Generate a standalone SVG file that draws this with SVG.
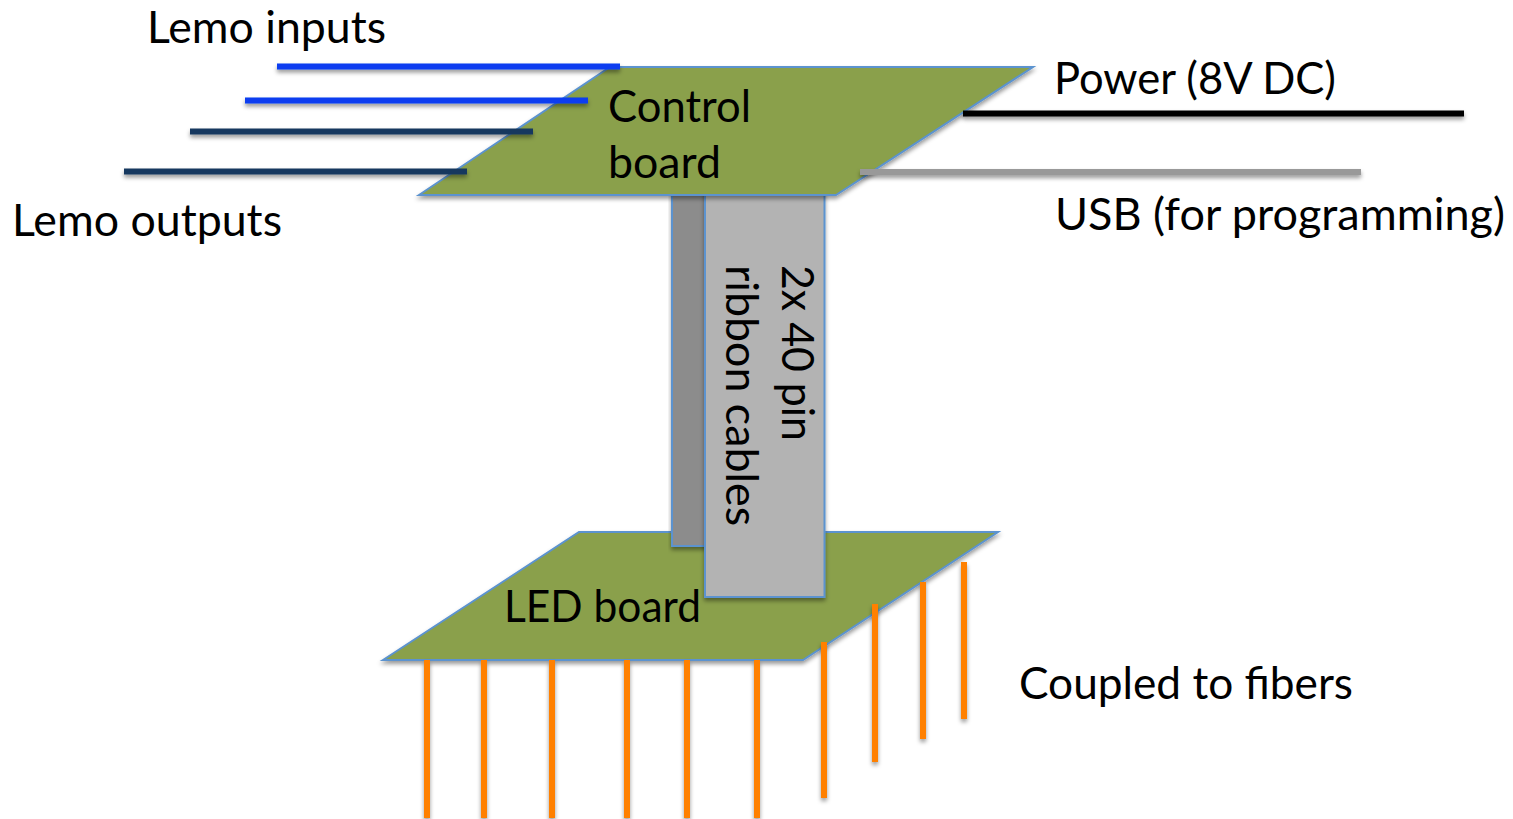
<svg xmlns="http://www.w3.org/2000/svg" width="1513" height="819" viewBox="0 0 1513 819">
<style>
text{font-family:"Lato","Noto Sans","Liberation Sans",sans-serif;font-size:44px;fill:#000}
.board{fill:#8aa04b;stroke:#5b93cf;stroke-width:2}
.cable{stroke:#5b93cf;stroke-width:2}
.wire{stroke-width:6;fill:none}
.blue{stroke:#0a3cf0}.navy{stroke:#17375e}.orange{stroke:#ff8000;stroke-width:6}
.s{filter:url(#sh)}
</style>
<defs><filter id="sh" x="-10%" y="-10%" width="120%" height="130%"><feDropShadow dx="0" dy="3" stdDeviation="2.2" flood-color="#000" flood-opacity="0.4"/></filter></defs>
<g id="led-board"><polygon class="board s" points="383,660 579,532 998,532 803,660"/><text x="504" y="622" textLength="197" lengthAdjust="spacingAndGlyphs">LED board</text></g>
<g id="ribbon-back"><rect class="cable s" x="672" y="190" width="36" height="356" fill="#8c8c8c"/></g>
<g id="ribbon-front"><rect class="cable s" x="705" y="190" width="119.500" height="407" fill="#b3b3b3"/>
<text transform="translate(782,265) rotate(90)" textLength="176" lengthAdjust="spacingAndGlyphs">2x 40 pin</text>
<text transform="translate(726,265) rotate(90)" textLength="261" lengthAdjust="spacingAndGlyphs">ribbon cables</text></g>
<g id="control-board"><polygon class="board s" points="419,195 610,67 1033,67 836,195"/>
<text x="608" y="122" textLength="143" lengthAdjust="spacingAndGlyphs">Control</text><text x="608" y="178" textLength="113" lengthAdjust="spacingAndGlyphs">board</text></g>
<g id="connectors" filter="url(#sh)">
<line class="wire blue" x1="277" y1="66.500" x2="620" y2="66.500"/>
<line class="wire blue" x1="245" y1="100.500" x2="588" y2="100.500"/>
<line class="wire navy" x1="190" y1="131.500" x2="533" y2="131.500"/>
<line class="wire navy" x1="124" y1="171.500" x2="467" y2="171.500"/>
<line class="wire" stroke="#000" x1="963" y1="113.500" x2="1464" y2="113.500"/>
<line class="wire" stroke="#999" x1="860" y1="172" x2="1361" y2="172"/>
<line class="orange" x1="427" y1="660" x2="427" y2="818"/>
<line class="orange" x1="484" y1="660" x2="484" y2="818"/>
<line class="orange" x1="552" y1="660" x2="552" y2="818"/>
<line class="orange" x1="627" y1="660" x2="627" y2="818"/>
<line class="orange" x1="687" y1="660" x2="687" y2="818"/>
<line class="orange" x1="757" y1="660" x2="757" y2="818"/>
<line class="orange" x1="824" y1="642" x2="824" y2="798"/>
<line class="orange" x1="875" y1="604" x2="875" y2="762"/>
<line class="orange" x1="923" y1="582" x2="923" y2="739"/>
<line class="orange" x1="964" y1="562" x2="964" y2="719"/>
</g>
<g id="labels">
<text x="147" y="43" textLength="239" lengthAdjust="spacingAndGlyphs">Lemo inputs</text>
<text x="12" y="236" textLength="270" lengthAdjust="spacingAndGlyphs">Lemo outputs</text>
<text x="1054" y="94" textLength="282" lengthAdjust="spacingAndGlyphs">Power (8V DC)</text>
<text x="1055" y="230" textLength="450" lengthAdjust="spacingAndGlyphs">USB (for programming)</text>
<text x="1019" y="699" textLength="334" lengthAdjust="spacingAndGlyphs">Coupled to fibers</text>
</g>
</svg>
